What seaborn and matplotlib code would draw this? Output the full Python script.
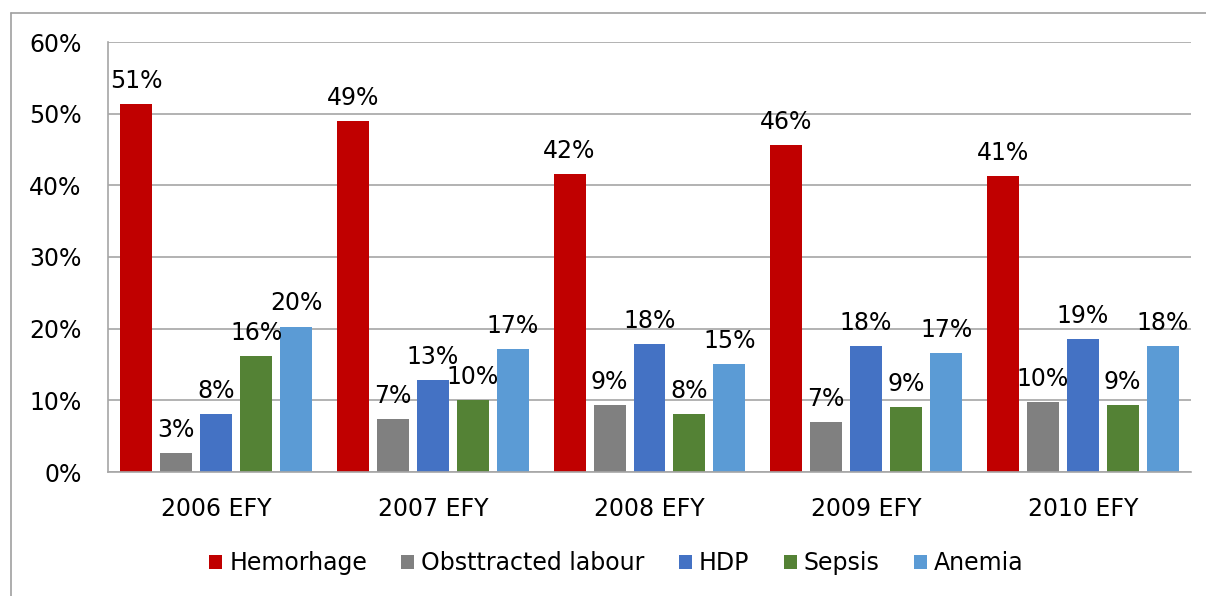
import matplotlib
matplotlib.use("Agg")
import matplotlib.pyplot as plt
import seaborn as sns
import pandas as pd
from matplotlib.lines import Line2D
from matplotlib.patches import Patch

years = ["2006 EFY", "2007 EFY", "2008 EFY", "2009 EFY", "2010 EFY"]
causes = ["Hemorhage", "Obsttracted labour", "HDP", "Sepsis", "Anemia"]
hemorhage = [51.4, 49.0, 41.6, 45.6, 41.3]
obstructed = [2.7, 7.4, 9.4, 7.0, 9.7]
hdp = [8.1, 12.8, 17.9, 17.6, 18.6]
sepsis = [16.2, 10.1, 8.1, 9.1, 9.4]
anemia = [20.3, 17.1, 15.1, 16.6, 17.6]
colors = ["#C00000", "#808080", "#4472C4", "#548235", "#5B9BD5"]

series = [hemorhage, obstructed, hdp, sepsis, anemia]
rows = []
for c, vals in zip(causes, series):
    for y, v in zip(years, vals):
        rows.append({"year": y, "cause": c, "value": v})
df = pd.DataFrame(rows)

sns.set_theme(style="white")
plt.rcParams["font.family"] = ["DejaVu Sans"]
plt.rcParams["text.color"] = "black"
plt.rcParams["xtick.color"] = "black"
plt.rcParams["ytick.color"] = "black"

FS = 17

fig = plt.figure(figsize=(12.06, 5.96), dpi=100)
ax = fig.add_axes([108/1206, 1-472/596, (1191-108)/1206, (472-42)/596])

sns.barplot(data=df, x="year", y="value", hue="cause", hue_order=causes,
            order=years, palette=colors, width=0.923, gap=0.2, ax=ax,
            legend=False, saturation=1, edgecolor="none")

for cont in ax.containers:
    vals = [b.get_height() for b in cont]
    ax.bar_label(cont, labels=[f"{round(v)}%" for v in vals], padding=8,
                 fontsize=FS, color="black")

ax.set_ylim(0, 60)
ax.set_xlim(-0.5, 4.5)
ax.set_yticks(range(0, 61, 10))
ax.set_yticklabels([f"{t}%" for t in range(0, 61, 10)], fontsize=FS)
ax.tick_params(axis="y", length=0, pad=19, labelcolor="black")
ax.tick_params(axis="x", length=0, pad=18, labelsize=FS, labelcolor="black")
ax.set_xlabel("")
ax.set_ylabel("")
ax.yaxis.grid(True, color="#A6A6A6", linewidth=1.2)
ax.set_axisbelow(True)
for s in ["top", "right"]:
    ax.spines[s].set_visible(False)
for s in ["left", "bottom"]:
    ax.spines[s].set_color("#A6A6A6")
    ax.spines[s].set_linewidth(1.2)

handles = [Patch(facecolor=c, edgecolor="none") for c in colors]
leg = fig.legend(handles, causes, loc="center", bbox_to_anchor=(0.511, 1-563/596),
                 ncol=5, frameon=False, fontsize=FS, handlelength=0.55,
                 handleheight=0.55, handletextpad=0.3, columnspacing=1.45)
for t in leg.get_texts():
    t.set_color("black")

fx = 11/1206
fy = 1-13/596
fig.add_artist(Line2D([fx, fx], [0, fy], transform=fig.transFigure,
                      color="#A0A0A0", linewidth=1.2))
fig.add_artist(Line2D([fx, 1], [fy, fy], transform=fig.transFigure,
                      color="#A0A0A0", linewidth=1.2))

fig.savefig("out.png", dpi=100)
